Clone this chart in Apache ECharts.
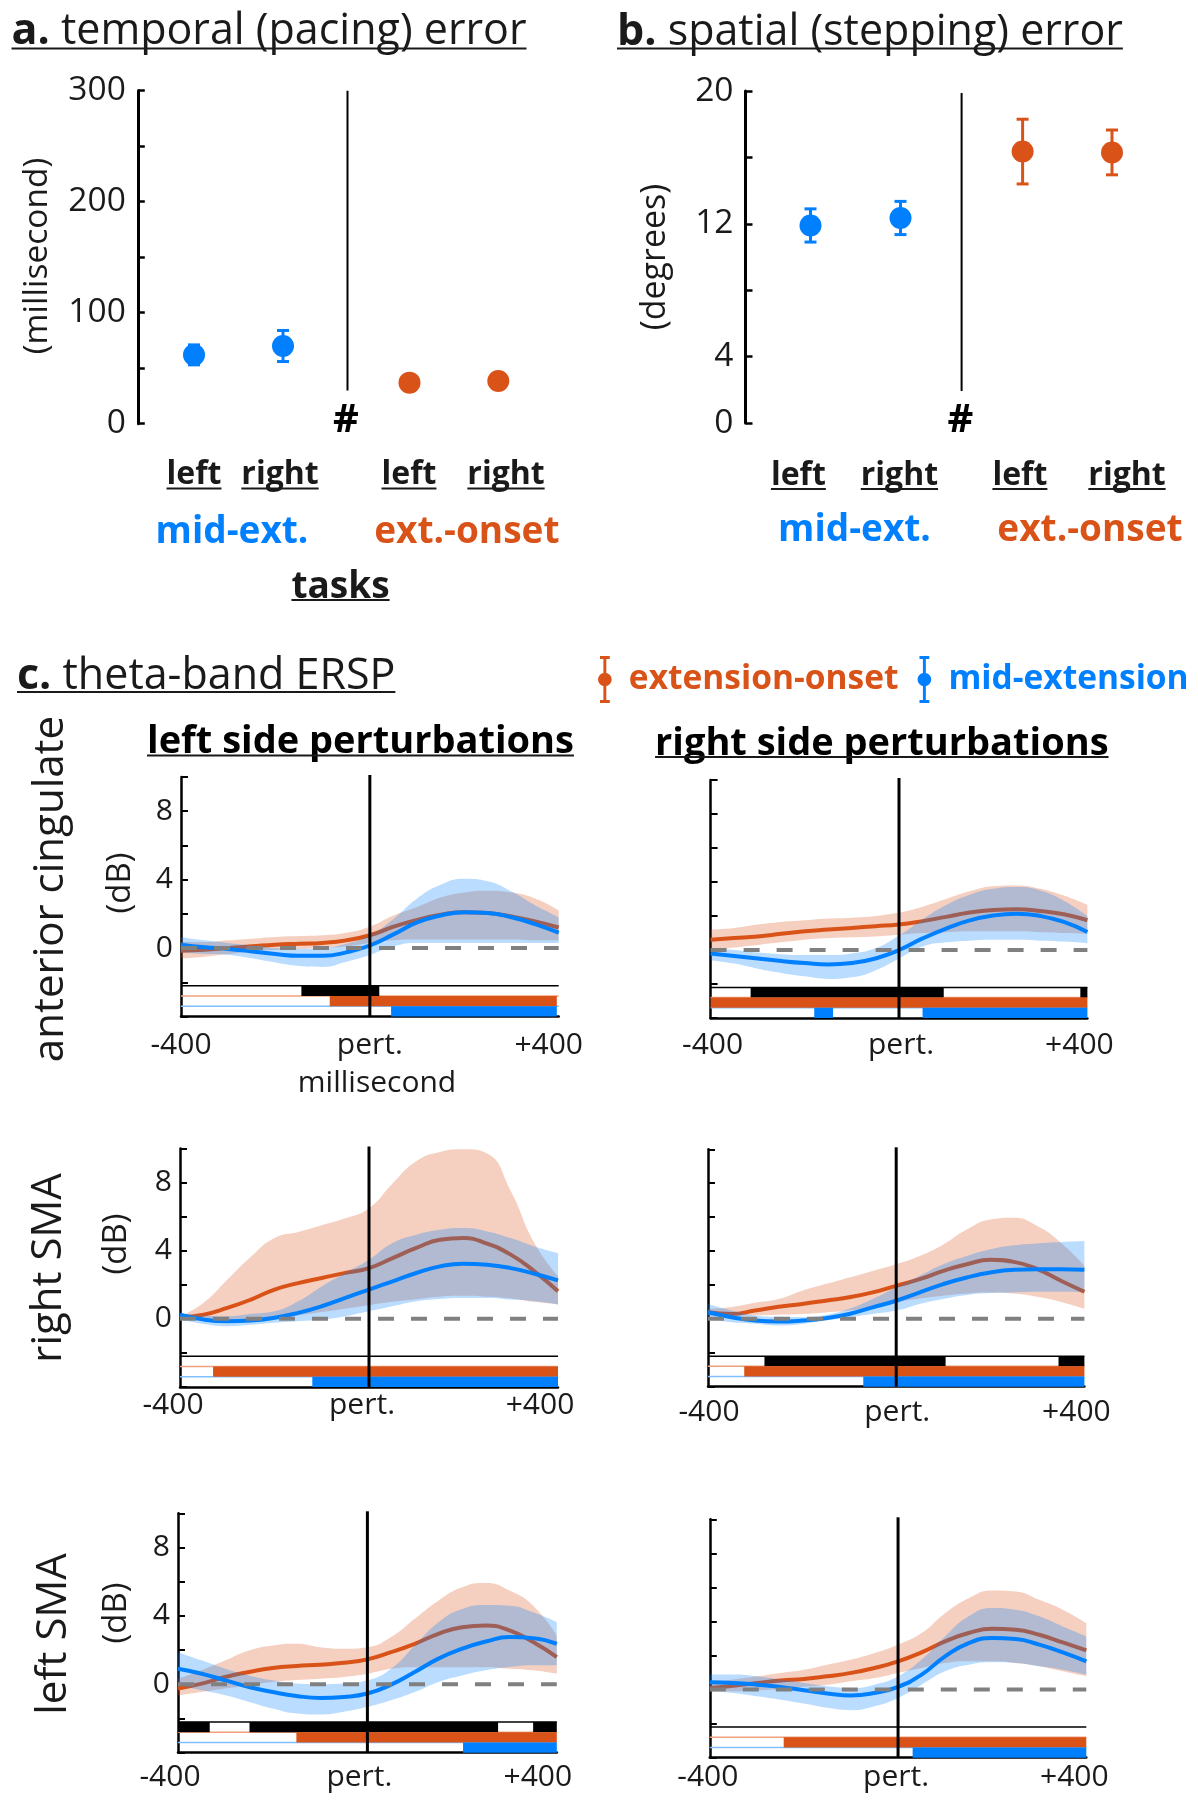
<!DOCTYPE html>
<html>
<head>
<meta charset="utf-8">
<script src="https://cdn.jsdelivr.net/npm/echarts@6/dist/echarts.min.js"></script>
<style>
  html, body { margin: 0; padding: 0; background: #fff; }
  #main { width: 1198px; height: 1800px; }
</style>
</head>
<body>
<div id="main"></div>
<script>
// ---------- data ----------
// a / b : behavioural errors (mean, sem)
var sides = ['left', 'right'];
var pacingMid = [62, 70], pacingMidErr = [9, 14];
var pacingExt = [37, 38.5], pacingExtErr = [5, 5];
var steppingMid = [11.9, 12.35], steppingMidErr = [1.0, 1.0];
var steppingExt = [16.35, 16.3], steppingExtErr = [1.95, 1.35];
var pacingLabels = [0, 100, 200, 300];
var steppingLabels = [0, 4, 12, 20];

// c : theta-band ERSP, time in ms
var ms = [-400, -350, -300, -250, -200, -150, -100, -50, 0, 50, 100, 150, 200, 250, 300, 350, 400];
var dbLabels = [0, 4, 8];

// anterior cingulate, left side
var acL_eoMean = [-0.15, -0.1, 0.0, 0.1, 0.2, 0.25, 0.3, 0.45, 0.75, 1.25, 1.65, 1.95, 2.1, 2.05, 1.85, 1.55, 1.2];
var acL_eoHi = [0.35, 0.35, 0.45, 0.55, 0.65, 0.7, 0.75, 0.9, 1.25, 1.9, 2.4, 2.95, 3.25, 3.35, 3.25, 2.9, 2.2];
var acL_eoLo = [-0.6, -0.5, -0.35, -0.2, -0.1, -0.05, 0.0, 0.1, 0.3, 0.45, 0.5, 0.5, 0.5, 0.5, 0.5, 0.45, 0.45];
var acL_meMean = [0.2, 0.05, -0.05, -0.2, -0.35, -0.45, -0.45, -0.25, 0.15, 0.8, 1.5, 1.9, 2.1, 2.05, 1.8, 1.4, 0.9];
var acL_meHi = [0.65, 0.45, 0.3, 0.15, 0.0, -0.05, 0.0, 0.25, 0.75, 1.7, 2.9, 3.7, 4.05, 3.9, 3.3, 2.5, 1.8];
var acL_meLo = [-0.25, -0.35, -0.4, -0.6, -0.85, -1.05, -1.1, -0.8, -0.4, 0.1, 0.3, 0.3, 0.3, 0.3, 0.3, 0.3, 0.3];
var acL_sigK = [[-145, 20]], acL_sigO = [[-85, 396]], acL_sigB = [[45, 396]];

// anterior cingulate, right side
var acR_eoMean = [0.6, 0.7, 0.8, 0.95, 1.1, 1.2, 1.3, 1.4, 1.5, 1.7, 1.95, 2.2, 2.35, 2.4, 2.3, 2.1, 1.75];
var acR_eoHi = [1.2, 1.3, 1.5, 1.65, 1.75, 1.85, 1.9, 2.0, 2.2, 2.55, 3.0, 3.45, 3.75, 3.8, 3.6, 3.2, 2.65];
var acR_eoLo = [0.0, 0.15, 0.3, 0.45, 0.6, 0.7, 0.75, 0.8, 0.9, 1.0, 1.05, 1.1, 1.1, 1.1, 1.05, 1.0, 0.95];
var acR_meMean = [-0.2, -0.35, -0.5, -0.65, -0.77, -0.85, -0.77, -0.5, 0.0, 0.68, 1.26, 1.74, 2.03, 2.13, 2.0, 1.65, 1.06];
var acR_meHi = [0.1, 0.0, -0.15, -0.25, -0.3, -0.3, -0.2, 0.1, 0.85, 1.8, 2.65, 3.25, 3.6, 3.7, 3.5, 2.9, 2.0];
var acR_meLo = [-0.6, -0.8, -1.1, -1.35, -1.55, -1.7, -1.6, -1.2, -0.5, 0.2, 0.45, 0.55, 0.6, 0.6, 0.55, 0.5, 0.4];
var acR_sigK = [[-315, 95], [385, 400]], acR_sigO = [[-400, 400]], acR_sigB = [[-180, -140], [50, 400]];

// right SMA, left side
var rsL_eoMean = [0.1, 0.25, 0.64, 1.13, 1.72, 2.1, 2.4, 2.7, 2.98, 3.57, 4.16, 4.64, 4.74, 4.41, 3.77, 2.79, 1.62];
var rsL_eoHi = [0.15, 0.95, 2.3, 3.65, 4.75, 5.1, 5.5, 5.9, 6.5, 7.95, 9.25, 9.8, 9.95, 9.7, 7.5, 4.45, 2.5];
var rsL_eoLo = [-0.05, -0.1, -0.15, -0.1, 0.0, 0.2, 0.4, 0.6, 0.8, 1.0, 1.15, 1.3, 1.35, 1.3, 1.2, 1.0, 0.85];
var rsL_meMean = [0.25, -0.04, -0.14, -0.1, 0.06, 0.35, 0.74, 1.23, 1.72, 2.2, 2.69, 3.08, 3.24, 3.18, 2.98, 2.65, 2.26];
var rsL_meHi = [0.35, 0.2, 0.16, 0.3, 0.45, 1.03, 1.9, 2.7, 3.47, 4.45, 4.94, 5.23, 5.33, 5.13, 4.74, 4.25, 3.86];
var rsL_meLo = [-0.04, -0.3, -0.43, -0.35, -0.23, -0.14, -0.04, 0.16, 0.45, 0.74, 1.03, 1.17, 1.23, 1.23, 1.13, 1.03, 0.84];
var rsL_sigK = [], rsL_sigO = [[-330, 400]], rsL_sigB = [[-120, 400]];

// right SMA, right side
var rsR_eoMean = [0.39, 0.29, 0.49, 0.72, 0.88, 1.07, 1.27, 1.56, 1.95, 2.34, 2.83, 3.22, 3.48, 3.36, 2.93, 2.25, 1.6];
var rsR_eoHi = [0.59, 0.7, 0.95, 1.17, 1.66, 2.05, 2.44, 2.83, 3.22, 3.71, 4.39, 5.27, 5.86, 5.96, 5.47, 4.49, 3.13];
var rsR_eoLo = [0.2, 0.2, 0.22, 0.25, 0.29, 0.38, 0.49, 0.7, 0.98, 1.2, 1.37, 1.5, 1.56, 1.5, 1.3, 1.0, 0.6];
var rsR_meMean = [0.39, 0.1, -0.1, -0.16, -0.1, 0.04, 0.29, 0.68, 1.07, 1.56, 2.05, 2.44, 2.73, 2.89, 2.93, 2.93, 2.89];
var rsR_meHi = [0.88, 0.5, 0.2, 0.12, 0.1, 0.23, 0.59, 1.17, 1.86, 2.54, 3.22, 3.71, 4.1, 4.34, 4.45, 4.53, 4.59];
var rsR_meLo = [0.0, -0.2, -0.29, -0.39, -0.3, -0.1, 0.1, 0.29, 0.49, 0.88, 1.17, 1.41, 1.52, 1.56, 1.6, 1.6, 1.56];
var rsR_sigK = [[-280, 105], [345, 400]], rsR_sigO = [[-323, 400]], rsR_sigB = [[-70, 400]];

// left SMA, left side
var lsL_eoMean = [-0.25, 0.04, 0.43, 0.72, 0.95, 1.07, 1.15, 1.26, 1.46, 1.88, 2.37, 2.95, 3.34, 3.44, 3.15, 2.47, 1.59];
var lsL_eoHi = [0.33, 0.82, 1.4, 1.98, 2.27, 2.37, 2.17, 2.08, 2.17, 2.76, 3.83, 4.89, 5.67, 5.92, 5.48, 4.6, 2.85];
var lsL_eoLo = [-0.64, -0.45, -0.25, -0.06, 0.14, 0.25, 0.33, 0.43, 0.62, 0.91, 1.0, 1.0, 1.0, 1.0, 0.91, 0.82, 0.62];
var lsL_meMean = [0.91, 0.62, 0.23, -0.16, -0.45, -0.68, -0.8, -0.74, -0.54, -0.02, 0.72, 1.5, 2.08, 2.5, 2.76, 2.7, 2.37];
var lsL_meHi = [1.88, 1.4, 0.91, 0.52, 0.23, 0.04, 0.0, 0.04, 0.23, 0.91, 2.27, 3.63, 4.41, 4.64, 4.6, 4.21, 3.63];
var lsL_meLo = [-0.06, -0.35, -0.64, -1.03, -1.42, -1.71, -1.77, -1.61, -1.32, -0.93, -0.45, 0.14, 0.52, 0.82, 1.01, 1.11, 1.11];
var lsL_sigK = [[-400, -333], [-249, 276], [350, 400]], lsL_sigO = [[-150, 400]], lsL_sigB = [[202, 400]];

// left SMA, right side
var lsR_eoMean = [0.1, 0.23, 0.39, 0.53, 0.62, 0.78, 0.98, 1.27, 1.66, 2.19, 2.83, 3.32, 3.57, 3.52, 3.22, 2.77, 2.3];
var lsR_eoHi = [0.39, 0.59, 0.78, 0.98, 1.17, 1.46, 1.76, 2.15, 2.64, 3.32, 4.49, 5.37, 5.82, 5.76, 5.27, 4.69, 3.9];
var lsR_eoLo = [-0.1, -0.1, -0.04, 0.04, 0.16, 0.29, 0.49, 0.68, 0.98, 1.27, 1.56, 1.66, 1.66, 1.56, 1.37, 1.07, 0.78];
var lsR_meMean = [0.43, 0.39, 0.29, 0.16, -0.04, -0.23, -0.35, -0.2, 0.16, 0.88, 1.95, 2.73, 3.03, 2.97, 2.64, 2.19, 1.66];
var lsR_meHi = [0.88, 0.88, 0.78, 0.59, 0.39, 0.2, 0.1, 0.29, 0.78, 1.76, 3.13, 4.3, 4.79, 4.69, 4.3, 3.71, 3.13];
var lsR_meLo = [-0.1, -0.2, -0.39, -0.59, -0.82, -1.07, -1.21, -0.98, -0.49, 0.29, 1.07, 1.46, 1.6, 1.56, 1.37, 1.17, 0.88];
var lsR_sigK = [], lsR_sigO = [[-243, 400]], lsR_sigB = [[31, 400]];

// ---------- style ----------
var FONT = '"Open Sans", "DejaVu Sans", sans-serif';
var INK = '#1a1a1a';
var ME = '#0080ff', EO = '#d95319';
var sigFill = ['#000000', EO, ME];
var sigThin = ['#000000', '#f0a07c', '#80bfff'];
var sigTop = -2.2, sigRow = 0.6;
var errIcon = 'path://M2,0H12V3H2Z M5.5,0H8.5V48H5.5Z M2,45H12V48H2Z M0,24A7,7 0 1,1 14,24A7,7 0 1,1 0,24Z';

var myChart = echarts.init(document.getElementById('main'));

// ---------- grids ----------
var grids = [
    {left: 149.5, top: 90.7, width: 178, height: 333},      // a, mid-ext
    {left: 365.1, top: 90.7, width: 177.6, height: 333},    // a, ext-onset
    {left: 765.5, top: 91, width: 180, height: 332},        // b, mid-ext
    {left: 977.9, top: 91, width: 178.8, height: 332},      // b, ext-onset
    {left: 181, top: 777, width: 377.7, height: 239.5},     // ACC left
    {left: 710.6, top: 780, width: 376.8, height: 238},     // ACC right
    {left: 180, top: 1148.5, width: 378, height: 238.5},    // rSMA left
    {left: 708, top: 1149.3, width: 376.4, height: 237.4},  // rSMA right
    {left: 178, top: 1513.3, width: 378.8, height: 239.4},  // lSMA left
    {left: 709.8, top: 1519.3, width: 376.5, height: 238.4} // lSMA right
];
grids.forEach(function (gr) { gr.outerBoundsMode = 'none'; gr.containLabel = false; });

var xAxes = [], yAxes = [], series = [];

// ---------- a / b ----------
function renderErr(params, api) {
    var x = api.value(0), m = api.value(1), e = api.value(2);
    var top = api.coord([x, m + e]), bot = api.coord([x, m - e]);
    var st = {stroke: api.visual('color'), lineWidth: 3};
    return {
        type: 'group', children: [
            {type: 'line', shape: {x1: top[0], y1: top[1], x2: bot[0], y2: bot[1]}, style: st},
            {type: 'line', shape: {x1: top[0] - 6, y1: top[1], x2: top[0] + 6, y2: top[1]}, style: st},
            {type: 'line', shape: {x1: bot[0] - 6, y1: bot[1], x2: bot[0] + 6, y2: bot[1]}, style: st}
        ]
    };
}
function errData(vals, errs) {
    return vals.map(function (v, i) { return [i, v, errs[i]]; });
}
function taskPanel(gi, vals, errs, color, yMax, yInt, labels, offset) {
    xAxes.push({gridIndex: gi, type: 'category', data: sides, show: false});
    if (labels) {
        yAxes.push({
            gridIndex: gi, type: 'value', min: 0, max: yMax, interval: yInt, offset: offset,
            axisLine: {show: true, onZero: false, lineStyle: {color: '#000', width: 3}},
            axisTick: {show: true, inside: true, length: 7, lineStyle: {color: '#000', width: 2.5}},
            splitLine: {show: false},
            axisLabel: {
                fontSize: 33.5, fontFamily: FONT, color: INK, margin: 12,
                formatter: function (v) { return labels.indexOf(v) >= 0 ? String(v) : ''; }
            }
        });
    } else {
        yAxes.push({gridIndex: gi, type: 'value', min: 0, max: yMax, interval: yInt, show: false, splitLine: {show: false}});
    }
    series.push({
        type: 'custom', xAxisIndex: gi, yAxisIndex: gi, renderItem: renderErr, silent: true,
        itemStyle: {color: color}, encode: {x: 0, y: 1}, data: errData(vals, errs), z: 2
    });
    series.push({
        type: 'scatter', xAxisIndex: gi, yAxisIndex: gi, symbolSize: 22, silent: true,
        itemStyle: {color: color, opacity: 1}, data: vals, z: 3
    });
}
taskPanel(0, pacingMid, pacingMidErr, ME, 300, 50, pacingLabels, 11.7);
taskPanel(1, pacingExt, pacingExtErr, EO, 300, 50, null, 0);
taskPanel(2, steppingMid, steppingMidErr, ME, 20, 4, steppingLabels, 20);
taskPanel(3, steppingExt, steppingExtErr, EO, 20, 4, null, 0);

// ---------- c ----------
var panels = [
    {eoM: acL_eoMean, eoHi: acL_eoHi, eoLo: acL_eoLo, meM: acL_meMean, meHi: acL_meHi, meLo: acL_meLo, K: acL_sigK, O: acL_sigO, B: acL_sigB, labels: true, margin: 14, shift: 0, endShift: 10},
    {eoM: acR_eoMean, eoHi: acR_eoHi, eoLo: acR_eoLo, meM: acR_meMean, meHi: acR_meHi, meLo: acR_meLo, K: acR_sigK, O: acR_sigO, B: acR_sigB, labels: false, margin: 12, shift: -2, endShift: 8},
    {eoM: rsL_eoMean, eoHi: rsL_eoHi, eoLo: rsL_eoLo, meM: rsL_meMean, meHi: rsL_meHi, meLo: rsL_meLo, K: rsL_sigK, O: rsL_sigO, B: rsL_sigB, labels: true, margin: 3, shift: 7, endShift: 18},
    {eoM: rsR_eoMean, eoHi: rsR_eoHi, eoLo: rsR_eoLo, meM: rsR_meMean, meHi: rsR_meHi, meLo: rsR_meLo, K: rsR_sigK, O: rsR_sigO, B: rsR_sigB, labels: false, margin: 11, shift: -1, endShift: 8},
    {eoM: lsL_eoMean, eoHi: lsL_eoHi, eoLo: lsL_eoLo, meM: lsL_meMean, meHi: lsL_meHi, meLo: lsL_meLo, K: lsL_sigK, O: lsL_sigO, B: lsL_sigB, labels: true, margin: 10, shift: 8, endShift: 19},
    {eoM: lsR_eoMean, eoHi: lsR_eoHi, eoLo: lsR_eoLo, meM: lsR_meMean, meHi: lsR_meHi, meLo: lsR_meLo, K: lsR_sigK, O: lsR_sigO, B: lsR_sigB, labels: false, margin: 5, shift: 2, endShift: 12}
];

function spread(hi, lo) {
    return hi.map(function (h, i) { return +(h - lo[i]).toFixed(3); });
}
function sigData(K, O, B) {
    var d = [[-400, 400, 0, 0], [-400, 400, 1, 0], [-400, 400, 2, 0]];
    [K, O, B].forEach(function (list, row) {
        list.forEach(function (s) { d.push([s[0], s[1], row, 1]); });
    });
    return d;
}
function renderSig(params, api) {
    var s = api.value(0), e = api.value(1), row = api.value(2), filled = api.value(3);
    var y0 = sigTop - row * sigRow, y1 = y0 - sigRow;
    var a = api.coord([s, y0]), b = api.coord([e, y1]);
    if (!filled) {
        return {type: 'line', shape: {x1: a[0], y1: a[1], x2: b[0], y2: a[1]}, style: {stroke: sigThin[row], lineWidth: 1.5}};
    }
    return {type: 'rect', shape: {x: a[0], y: a[1], width: b[0] - a[0], height: b[1] - a[1]}, style: {fill: sigFill[row]}};
}
function renderRef(params, api) {
    var z0 = api.coord([-400, 0]), z1 = api.coord([400, 0]);
    var v0 = api.coord([0, 10]), v1 = api.coord([0, -4]);
    return {
        type: 'group', children: [
            {type: 'line', shape: {x1: z0[0], y1: z0[1], x2: z1[0], y2: z1[1]},
                style: {stroke: '#808080', lineWidth: 4, lineDash: [16, 17]}},
            {type: 'line', shape: {x1: v0[0], y1: v0[1] - 2, x2: v1[0], y2: v1[1]},
                style: {stroke: '#000', lineWidth: 3}}
        ]
    };
}
function padFor(shift) {
    return shift >= 0 ? [0, 2 * shift, 0, 0] : [0, 0, 0, -2 * shift];
}

var catBase = 4 + panels.length;   // index of first hidden category axis
panels.forEach(function (p, k) {
    var gi = 4 + k;
    var lab = {fontSize: 30, fontFamily: FONT, color: INK};
    xAxes.push({
        gridIndex: gi, type: 'value', min: -400, max: 400, interval: 400,
        axisLine: {show: true, onZero: false, lineStyle: {color: '#000', width: 2.5}},
        axisTick: {show: false}, splitLine: {show: false},
        axisLabel: {
            fontSize: 30, fontFamily: FONT, color: INK, margin: p.margin,
            formatter: function (v) {
                if (v === 400) return '{e|+400}';
                return '{m|' + (v === 0 ? 'pert.' : String(v)) + '}';
            },
            rich: {
                m: Object.assign({padding: padFor(p.shift)}, lab),
                e: Object.assign({padding: padFor(p.endShift)}, lab)
            }
        }
    });
    yAxes.push({
        gridIndex: gi, type: 'value', min: -4, max: 10, interval: 2,
        axisLine: {show: true, onZero: false, lineStyle: {color: '#000', width: 2.5}},
        axisTick: {show: true, inside: true, length: 7, lineStyle: {color: '#000', width: 2}},
        splitLine: {show: false},
        axisLabel: {
            show: p.labels, fontSize: 30, fontFamily: FONT, color: INK, margin: 8,
            formatter: function (v) { return dbLabels.indexOf(v) >= 0 ? String(v) : ''; }
        }
    });
    var ci = catBase + k;
    var common = {type: 'line', xAxisIndex: ci, yAxisIndex: gi, smooth: 0.5, symbol: 'none', silent: true};
    series.push(Object.assign({}, common, {
        data: p.eoLo, stack: 'eo' + k, stackStrategy: 'all', lineStyle: {width: 0, opacity: 0}, z: 1
    }));
    series.push(Object.assign({}, common, {
        data: spread(p.eoHi, p.eoLo), stack: 'eo' + k, stackStrategy: 'all', lineStyle: {width: 0, opacity: 0},
        areaStyle: {color: EO, opacity: 0.27}, z: 1
    }));
    series.push(Object.assign({}, common, {
        name: 'extension-onset', data: p.eoM, lineStyle: {color: EO, width: 4}, itemStyle: {color: EO}, z: 2
    }));
    series.push(Object.assign({}, common, {
        data: p.meLo, stack: 'me' + k, stackStrategy: 'all', lineStyle: {width: 0, opacity: 0}, z: 3
    }));
    series.push(Object.assign({}, common, {
        data: spread(p.meHi, p.meLo), stack: 'me' + k, stackStrategy: 'all', lineStyle: {width: 0, opacity: 0},
        areaStyle: {color: ME, opacity: 0.27}, z: 3
    }));
    series.push(Object.assign({}, common, {
        name: 'mid-extension', data: p.meM, lineStyle: {color: ME, width: 4}, itemStyle: {color: ME}, z: 4
    }));
    series.push({
        type: 'custom', xAxisIndex: gi, yAxisIndex: gi, renderItem: renderSig, silent: true,
        encode: {x: [0, 1], y: 2}, data: sigData(p.K, p.O, p.B), z: 5
    });
    series.push({
        type: 'custom', xAxisIndex: gi, yAxisIndex: gi, renderItem: renderRef, silent: true,
        encode: {x: 0, y: 0}, data: [[0]], z: 6
    });
});
// hidden category axes carrying the time samples of the curves
panels.forEach(function (p, k) {
    xAxes.push({gridIndex: 4 + k, type: 'category', data: ms, boundaryGap: false, show: false, position: 'top'});
});

// ---------- texts ----------
var g = [];
var mctx = document.createElement('canvas').getContext('2d');
function fontOf(size, weight) { return (weight || 'normal') + ' ' + size + 'px ' + FONT; }
function widthOf(str, size, weight) { mctx.font = fontOf(size, weight); return mctx.measureText(str).width; }
function txt(str, x, y, size, o) {
    o = o || {};
    g.push({
        type: 'text', x: x, y: y, rotation: o.rot || 0, silent: true, z: 10,
        style: {text: str, font: fontOf(size, o.weight), fill: o.color || INK, align: o.align || 'center', verticalAlign: 'middle'}
    });
}
function uline(x0, x1, y) {
    g.push({type: 'line', silent: true, z: 10, shape: {x1: x0, y1: y, x2: x1, y2: y}, style: {stroke: INK, lineWidth: 2}});
}
function utxt(str, x, y, size, weight, color, uy) {
    txt(str, x, y, size, {weight: weight, color: color});
    var w = widthOf(str, size, weight);
    uline(x - w / 2, x + w / 2, uy);
}
function title(lead, rest, x, y, size, uy) {
    var w1 = widthOf(lead, size, 'bold'), w2 = widthOf(rest, size);
    txt(lead, x, y, size, {weight: 'bold', align: 'left'});
    txt(rest, x + w1, y, size, {align: 'left'});
    uline(x, x + w1 + w2, uy);
}
var ROT = Math.PI / 2;

title('a.', ' temporal (pacing) error', 11.5, 31.5, 43, 48.6);
title('b.', ' spatial (stepping) error', 617, 32.5, 43, 48.5);
title('c.', ' theta-band ERSP', 17, 676.5, 43, 692);

[194, 280, 409, 506].forEach(function (x, i) { utxt(sides[i % 2], x, 474.5, 32, 'bold', INK, 488.5); });
[798.4, 899.4, 1019.9, 1127].forEach(function (x, i) { utxt(sides[i % 2], x, 475.5, 32, 'bold', INK, 489); });
txt('mid-ext.', 232, 532.5, 37, {weight: 'bold', color: ME});
txt('ext.-onset', 466.8, 532.5, 37, {weight: 'bold', color: EO});
txt('mid-ext.', 854.5, 530.5, 37, {weight: 'bold', color: ME});
txt('ext.-onset', 1090, 530.5, 37, {weight: 'bold', color: EO});
utxt('tasks', 340.5, 587, 37, 'bold', INK, 600);
txt('#', 346, 421, 40, {weight: 'bold', color: '#000'});
txt('#', 960.4, 421, 40, {weight: 'bold', color: '#000'});
g.push({type: 'line', silent: true, shape: {x1: 347.5, y1: 90.7, x2: 347.5, y2: 390.4}, style: {stroke: '#000', lineWidth: 2}});
g.push({type: 'line', silent: true, shape: {x1: 961.6, y1: 93, x2: 961.6, y2: 391}, style: {stroke: '#000', lineWidth: 2}});
txt('(millisecond)', 37, 256, 33.5, {rot: ROT});
txt('(degrees)', 655, 257, 34, {rot: ROT});

utxt('left side perturbations', 360.5, 742.5, 38, 'bold', '#000', 755.5);
utxt('right side perturbations', 881.8, 744, 38, 'bold', '#000', 757);
txt('anterior cingulate', 51, 889, 42, {rot: ROT});
txt('right SMA', 49, 1268, 42, {rot: ROT});
txt('left SMA', 54, 1634, 42, {rot: ROT});
txt('(dB)', 121, 883, 33, {rot: ROT});
txt('(dB)', 117, 1244, 33, {rot: ROT});
txt('(dB)', 117, 1613, 33, {rot: ROT});
txt('millisecond', 377, 1083, 30);

var option = {
    backgroundColor: '#fff',
    animation: false,
    textStyle: {fontFamily: FONT},
    legend: {
        left: 593, top: 651, orient: 'horizontal', selectedMode: false,
        itemWidth: 14, itemHeight: 47, itemGap: 19,
        itemStyle: {borderWidth: 0},
        textStyle: {fontSize: 33.5, fontWeight: 'bold', fontFamily: FONT, padding: [0, 0, 0, 12]},
        data: [
            {name: 'extension-onset', icon: errIcon, textStyle: {color: EO}},
            {name: 'mid-extension', icon: errIcon, textStyle: {color: ME}}
        ]
    },
    grid: grids,
    xAxis: xAxes,
    yAxis: yAxes,
    series: series,
    graphic: {elements: g}
};
myChart.setOption(option);
window.addEventListener('resize', function () {
    myChart.resize();
});
</script>
</body>
</html>
